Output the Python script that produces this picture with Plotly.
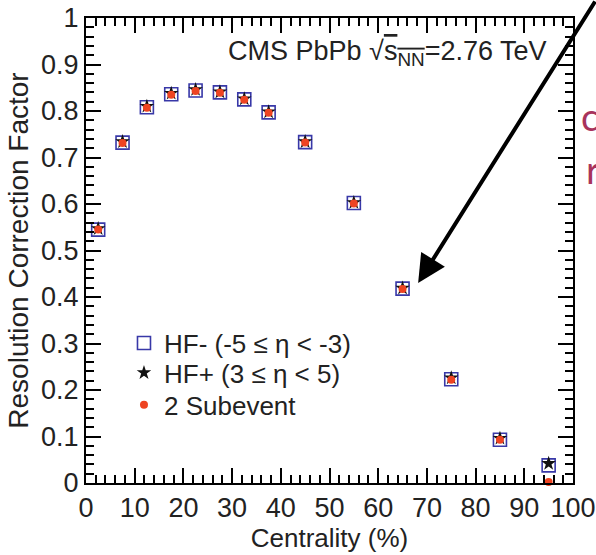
import plotly.graph_objects as go

centrality = [2.5, 7.5, 12.5, 17.5, 22.5, 27.5, 32.5, 37.5, 45, 55, 65, 75, 85, 95]
hf_minus = [0.545, 0.732, 0.808, 0.836, 0.844, 0.840, 0.825, 0.797, 0.733, 0.602, 0.418, 0.223, 0.093, 0.038]
hf_plus = [0.547, 0.734, 0.810, 0.838, 0.846, 0.841, 0.826, 0.798, 0.734, 0.603, 0.419, 0.226, 0.096, 0.042]
subevent = [0.545, 0.731, 0.807, 0.835, 0.843, 0.839, 0.824, 0.796, 0.732, 0.601, 0.417, 0.222, 0.093, 0.002]

x_ticks = [0, 10, 20, 30, 40, 50, 60, 70, 80, 90, 100]
y_ticks = [0, 0.1, 0.2, 0.3, 0.4, 0.5, 0.6, 0.7, 0.8, 0.9, 1]
y_ticktext = ["0", "0.1", "0.2", "0.3", "0.4", "0.5", "0.6", "0.7", "0.8", "0.9", "1"]

FONT = "Liberation Sans, Arial, Helvetica, sans-serif"
TXT = "#222222"

fig = go.Figure()
fig.add_trace(go.Scatter(
    x=centrality, y=hf_minus, mode="markers", name="HF- (-5 \u2264 \u03b7 < -3)", legend="legend",
    marker=dict(symbol="square-open", size=13, color="#3838a8", line=dict(width=1.6, color="#3838a8")),
    cliponaxis=False))
fig.add_trace(go.Scatter(
    x=centrality, y=hf_plus, mode="markers", name="HF+ (3 \u2264 \u03b7 < 5)", legend="legend2",
    marker=dict(symbol="star", size=11, color="#111111"), cliponaxis=False))
fig.add_trace(go.Scatter(
    x=centrality, y=subevent, mode="markers", name="2 Subevent", legend="legend3",
    marker=dict(symbol="circle", size=8, color="#ee4422"), cliponaxis=False))

axis_common = dict(
    showgrid=False, zeroline=False, showline=True, linecolor="black", linewidth=2,
    ticks="inside", ticklen=15, tickwidth=2, tickcolor="black", automargin=False,
)
tickfont = dict(family=FONT, size=27, color=TXT)

fig.update_xaxes(
    range=[0, 100], tickvals=x_ticks, ticktext=[str(v) for v in x_ticks], tickfont=tickfont,
    minor=dict(dtick=2, ticks="inside", ticklen=8, tickwidth=2, tickcolor="black"),
    title=dict(text="Centrality (%)", font=dict(family=FONT, size=26, color=TXT), standoff=6),
    **axis_common)
fig.update_yaxes(
    range=[0, 1], tickvals=y_ticks, ticktext=y_ticktext, tickfont=tickfont,
    minor=dict(dtick=0.02, ticks="inside", ticklen=8, tickwidth=2, tickcolor="black"),
    title=dict(text="Resolution Correction Factor", font=dict(family=FONT, size=28, color=TXT), standoff=4),
    **axis_common)

# mirrored top / right axes with ticks only
fig.update_layout(
    xaxis2=dict(overlaying="x", side="top", range=[0, 100], tickvals=x_ticks, showticklabels=False,
                minor=dict(dtick=2, ticks="inside", ticklen=8, tickwidth=2, tickcolor="black"),
                **axis_common),
    yaxis2=dict(overlaying="y", side="right", range=[0, 1], tickvals=y_ticks, showticklabels=False,
                minor=dict(dtick=0.02, ticks="inside", ticklen=8, tickwidth=2, tickcolor="black"),
                **axis_common),
)
fig.add_trace(go.Scatter(x=[None], y=[None], xaxis="x2", yaxis="y2", showlegend=False, hoverinfo="skip"))

fig.add_annotation(
    xref="paper", yref="paper", x=0.951, y=0.925, xanchor="right", yanchor="middle",
    text="CMS PbPb \u221a<span style='text-decoration:overline'>s<sub>NN</sub></span>=2.76 TeV",
    showarrow=False, font=dict(family=FONT, size=27, color=TXT))

# arrow from the slide
fig.add_annotation(
    xref="x", yref="y", x=68.2, y=0.43, text="", showarrow=True,
    ax=190, ay=-295, arrowhead=2, arrowsize=1.4, arrowwidth=4, arrowcolor="black")

# cropped slide text on the right
fig.add_annotation(xref="paper", yref="paper", x=1.012, y=0.79, xanchor="left", yanchor="middle",
                   text="c", showarrow=False, font=dict(family="Lato, sans-serif", size=38, color="#a8335c"))
fig.add_annotation(xref="paper", yref="paper", x=1.022, y=0.675, xanchor="left", yanchor="middle",
                   text="r", showarrow=False, font=dict(family="Lato, sans-serif", size=38, color="#a8335c"))

legend_common = dict(xanchor="left", yanchor="middle", font=dict(family=FONT, size=26, color=TXT),
                     bgcolor="rgba(0,0,0,0)", itemwidth=30, borderwidth=0)
fig.update_layout(
    width=596, height=555,
    margin=dict(l=86, r=23, t=18, b=72),
    paper_bgcolor="white", plot_bgcolor="white",
    legend=dict(x=0.078, y=0.301, **legend_common),
    legend2=dict(x=0.078, y=0.237, **legend_common),
    legend3=dict(x=0.078, y=0.168, **legend_common),
    showlegend=True,
)

fig.write_html("out.html", config={"displayModeBar": False},
               post_script="document.body.style.margin='0';document.body.style.overflow='hidden';")
